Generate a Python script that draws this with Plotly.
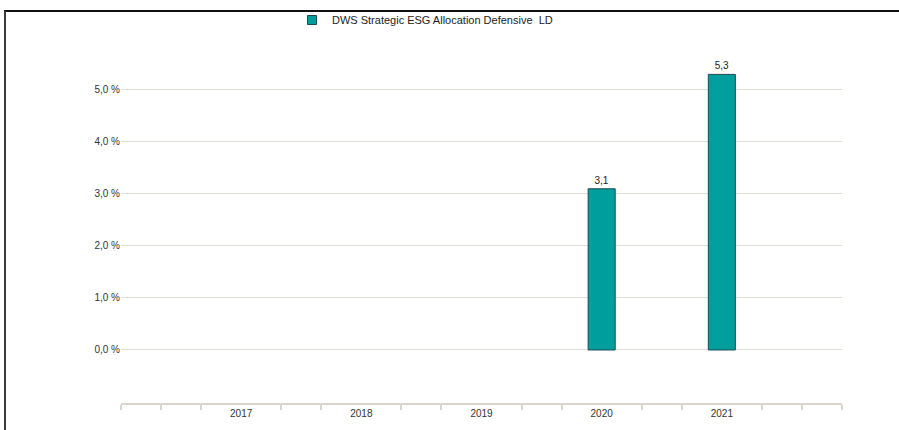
import plotly.graph_objects as go

# ---- data ----
series_name = "DWS Strategic ESG Allocation Defensive  LD"
years = [2017, 2018, 2019, 2020, 2021]
bar_years = [2020, 2021]
bar_values = [3.1, 5.3]
y_ticks = [0, 1, 2, 3, 4, 5, 6]
y_tick_labels = ["0,0 %", "1,0 %", "2,0 %", "3,0 %", "4,0 %", "5,0 %", ""]
year_labels = [str(y) for y in years]

W, H = 899, 430
L, R, T, B = 121, 57, 38, 27
pw, ph = W - L - R, H - T - B
TEAL = "#009f9d"
EDGE = "#1d4a50"

def px_x(p):
    return (p - L) / pw

def px_y(p):
    return (H - B - p) / ph

fig = go.Figure()
fig.add_trace(go.Bar(
    x=bar_years, y=bar_values, name=series_name,
    width=0.225,
    marker=dict(color=TEAL, line=dict(color=EDGE, width=1)),
    text=[f"{v:.1f}".replace(".", ",") for v in bar_values],
    textposition="outside",
    textfont=dict(size=10, color="#222222", family="Liberation Sans, Arial, sans-serif"),
    cliponaxis=False,
    showlegend=False,
    hoverinfo="skip",
))
# legend entry (small square swatch as in the reference)
fig.add_trace(go.Scatter(
    x=[None], y=[None], mode="markers", name=series_name,
    marker=dict(symbol="square", size=9, color=TEAL, line=dict(color=EDGE, width=1)),
    showlegend=True, hoverinfo="skip",
))

minor_vals = [2016 + i / 3 for i in range(19) if i % 3 != 0] + [2016, 2022]

fig.update_layout(
    width=W, height=H,
    margin=dict(l=L, r=R, t=T, b=B, pad=0, autoexpand=False),
    paper_bgcolor="white", plot_bgcolor="white",
    font=dict(family="Liberation Sans, Arial, sans-serif", size=10, color="#333333"),
    showlegend=True,
    legend=dict(
        orientation="h", xref="container", yref="container",
        x=292 / W, xanchor="left", y=1 - 20 / H, yanchor="middle",
        font=dict(size=11, color="#222222"), bgcolor="rgba(0,0,0,0)",
    ),
    xaxis=dict(
        range=[2016, 2022], tickvals=years, ticktext=year_labels, ticks="",
        showgrid=False, zeroline=False,
        showline=True, linecolor="#d9d5ca", linewidth=2,
        minor=dict(tickvals=minor_vals, ticks="outside", ticklen=5, tickcolor="#d9d5ca", tickwidth=1.5, showgrid=False),
        tickfont=dict(size=10, color="#333333"), fixedrange=True,
    ),
    yaxis=dict(
        range=[-1.02, 6.0], tickvals=y_ticks, ticktext=y_tick_labels,
        showgrid=True, gridcolor="#e0ddd4", gridwidth=1,
        zeroline=False, showline=False, ticks="",
        tickfont=dict(size=10, color="#333333"), fixedrange=True,
    ),
    shapes=[
        dict(type="line", xref="paper", yref="paper", x0=px_x(4), x1=px_x(W), y0=px_y(11), y1=px_y(11),
             line=dict(color="#111111", width=2)),
        dict(type="line", xref="paper", yref="paper", x0=px_x(5), x1=px_x(5), y0=px_y(11), y1=px_y(H),
             line=dict(color="#3a3a3a", width=2)),
    ],
)

fig.write_html(
    "out.html",
    config={"displayModeBar": False},
    post_script="document.body.style.margin='0';document.body.style.overflow='hidden';",
)
